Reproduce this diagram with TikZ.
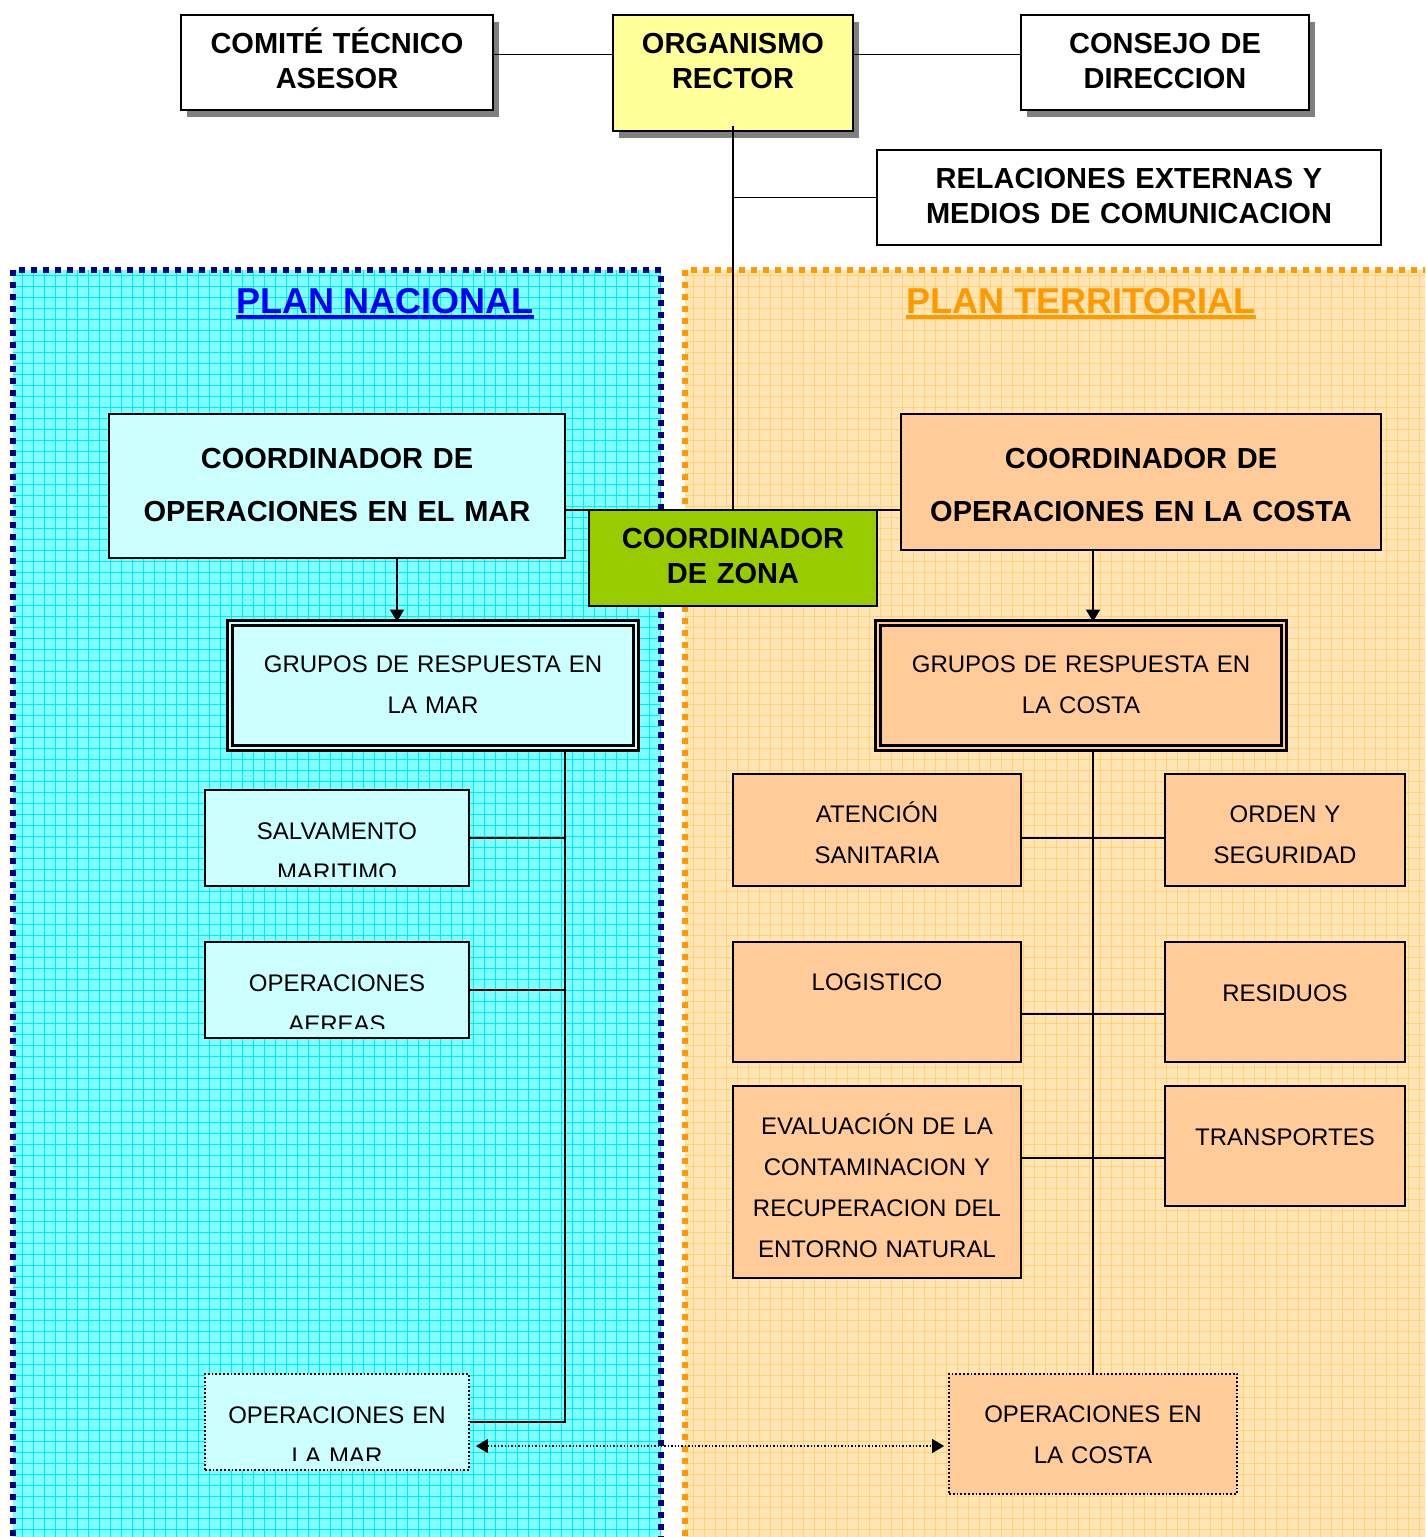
\documentclass[tikz,border=0pt]{standalone}
\usepackage{fontspec}
\setmainfont{Liberation Sans}
\usetikzlibrary{arrows.meta}
\usetikzlibrary{shadows}
\usetikzlibrary{positioning}
\definecolor{marfill}{HTML}{CCFFFF}
\definecolor{costafill}{HTML}{FFCC99}
\definecolor{rectorfill}{HTML}{FFFF99}
\definecolor{zonafill}{HTML}{99CC00}
\definecolor{natfill}{HTML}{80FFFF}
\definecolor{natgrid}{HTML}{00EEEE}
\definecolor{natborder}{HTML}{000080}
\definecolor{terfill}{HTML}{FFE5B4}
\definecolor{tergrid}{HTML}{FFD27A}
\definecolor{terborder}{HTML}{FF9900}

\begin{document}
\begin{tikzpicture}[x=0.5pt,y=-0.5pt,>={Triangle[length=6pt,width=7pt]},
    link/.style={-,line width=0.7pt},
    head box/.style={draw,fill=white,inner sep=0pt,align=center,
      font=\bfseries\fontsize{14.5}{17.5}\selectfont,text height=19.2pt},
    shadow box/.style={head box,line width=1.3pt,
      drop shadow={shadow xshift=3pt,shadow yshift=-3.5pt,fill=black!50,opacity=1}},
    coord box/.style={draw,line width=1pt,inner sep=0pt,align=center,
      font=\bfseries\fontsize{14.5}{26.5}\selectfont,text height=27.2pt},
    sub box/.style={draw,line width=0.9pt,inner sep=0pt,align=center,
      font=\fontsize{12}{20.5}\selectfont,text height=24.3pt},
    group box/.style={sub box,double,double distance=1pt,line width=1.4pt,text height=24.8pt},
    cut/.style={path picture={
      \clip ([yshift=5pt]path picture bounding box.south west) rectangle (path picture bounding box.north east);
      \node[sub box,draw=none,fill=none,anchor=north,text width=132pt] (cut text)
        at (path picture bounding box.north) {#1};}},
    plan title/.style={inner sep=0pt,font=\bfseries\fontsize{18}{21}\selectfont},
    plan border/.style={line width=2.8pt,dash pattern=on 2.8pt off 3.2pt}]
  \path[use as bounding box,clip] (0,0) rectangle (1425,1537);

  % plan nacional / plan territorial
  \begin{scope}
    \fill[natfill] (13,270) rectangle (661,1560);
    \draw[natgrid,line width=0.5pt,step=5.5pt] (13,270) grid (661,1560);
    \draw[natborder,plan border] (13,1560) -- (13,270) -- (661,270) -- (661,1560);
    \fill[terfill] (685,270) rectangle (1440,1560);
    \draw[tergrid,line width=0.5pt,step=5.5pt] (685,270) grid (1440,1560);
    \draw[terborder,plan border] (685,1560) -- (685,270) -- (1440,270);
  \end{scope}
  \node[plan title,text=blue] (nacional) at (385,301) {PLAN NACIONAL};
  \node[plan title,text=terborder] (territorial) at (1081,301) {PLAN TERRITORIAL};
  \draw[blue,line width=2pt] ([yshift=-1.8pt]nacional.base west) -- ([yshift=-1.8pt]nacional.base east);
  \draw[terborder,line width=2pt] ([yshift=-1.8pt]territorial.base west) -- ([yshift=-1.8pt]territorial.base east);

  \node[shadow box,text width=156pt,text depth=28.3pt] (comite) at (337,62.5) {COMITÉ TÉCNICO\\ASESOR};
  \node[shadow box,fill=rectorfill,text width=120pt,text depth=38.8pt] (rector) at (733,73) {ORGANISMO\\RECTOR};
  \node[shadow box,text width=144pt,text depth=28.3pt] (consejo) at (1165,62.5) {CONSEJO DE\\DIRECCION};
  \node[head box,line width=1pt,text width=252pt,text depth=28.3pt] (externas) at (1129,197.5) {RELACIONES EXTERNAS Y\\MEDIOS DE COMUNICACION};

  \node[coord box,fill=marfill,text width=228pt,text depth=44.8pt] (copmar) at (337,486) {COORDINADOR DE\\OPERACIONES EN EL MAR};
  \node[coord box,fill=costafill,text width=240pt,text depth=40.8pt] (copcosta) at (1141,482) {COORDINADOR DE\\OPERACIONES EN LA COSTA};
  \node[head box,fill=zonafill,line width=1pt,text width=144pt,text depth=28.8pt] (zona) at (733,558) {COORDINADOR\\DE ZONA};

  \node[group box,fill=marfill,double=marfill,text width=203pt,text depth=37.7pt] (grmar) at (433,685.5) {GRUPOS DE RESPUESTA EN\\LA MAR};
  \node[group box,fill=costafill,double=costafill,text width=203pt,text depth=37.7pt] (grcosta) at (1081,685.5) {GRUPOS DE RESPUESTA EN\\LA COSTA};

  \node[sub box,fill=marfill,text width=132pt,text depth=23.7pt,cut={SALVAMENTO\\MARITIMO}] (salvamento) at (337,838) {};
  \node[sub box,fill=marfill,text width=132pt,text depth=23.7pt,cut={OPERACIONES\\AEREAS}] (aereas) at (337,990) {};
  \node[sub box,fill=marfill,densely dotted,text width=132pt,text depth=23.7pt,cut={OPERACIONES EN\\LA MAR}] (opmar) at (337,1422) {};

  \node[sub box,fill=costafill,text width=144pt,text depth=31.7pt] (sanitaria) at (877,830) {ATENCIÓN\\SANITARIA};
  \node[sub box,fill=costafill,text width=120pt,text depth=31.7pt] (seguridad) at (1285,830) {ORDEN Y\\SEGURIDAD};
  \node[sub box,fill=costafill,text width=144pt,text depth=35.7pt] (logistico) at (877,1002) {LOGISTICO};
  \node[sub box,fill=costafill,text width=120pt,text height=29.8pt,text depth=30.2pt] (residuos) at (1285,1002) {RESIDUOS};
  \node[sub box,fill=costafill,text width=144pt,text depth=71.7pt] (evaluacion) at (877,1182) {EVALUACIÓN DE LA\\CONTAMINACION Y\\RECUPERACION DEL\\ENTORNO NATURAL};
  \node[sub box,fill=costafill,text width=120pt,text height=29.8pt,text depth=30.2pt] (transportes) at (1285,1146) {TRANSPORTES};
  \node[sub box,fill=costafill,densely dotted,text width=144pt,text depth=35.7pt] (opcosta) at (1093,1434) {OPERACIONES EN\\LA COSTA};

  % conexiones
  \path[link] ([yshift=4pt]comite.east) edge ([yshift=4pt]comite.east -| rector.west);
  \path[link] ([yshift=4pt]consejo.west) edge ([yshift=4pt]consejo.west -| rector.east);
  \path[link] ([yshift=3pt]rector.south) edge (zona.north);
  \path[link] (externas.west -| zona.north) edge (externas.west);
  \path[link] ([yshift=-12pt]copmar.east) edge ([yshift=-12pt]copmar.east -| copcosta.west);
  \draw[link,->] ([xshift=30pt]copmar.south) -- ([xshift=30pt]copmar.south |- grmar.north);
  \draw[link,->] ([xshift=-24pt]copcosta.south) -- ([xshift=-24pt]copcosta.south |- grcosta.north);

  \coordinate (martrunk) at ([xshift=66pt]grmar.south);
  \draw[link] (martrunk) |- (opmar.east);
  \path[link] (salvamento.east) edge (salvamento.east -| martrunk);
  \path[link] (aereas.east) edge (aereas.east -| martrunk);

  \path[link] (opcosta.north |- grcosta.south) edge (opcosta.north);
  \path[link] ([yshift=-4pt]sanitaria.east) edge ([yshift=-4pt]sanitaria.east -| seguridad.west);
  \path[link] ([yshift=-6pt]logistico.east) edge ([yshift=-6pt]logistico.east -| residuos.west);
  \path[link] ([yshift=-6pt]transportes.west) edge ([yshift=-6pt]transportes.west -| evaluacion.east);

  \draw[link,densely dotted,<->,shorten <=3pt,shorten >=2pt] ([yshift=-12pt]opmar.east) -- ([yshift=-12pt]opmar.east -| opcosta.west);
\end{tikzpicture}
\end{document}
